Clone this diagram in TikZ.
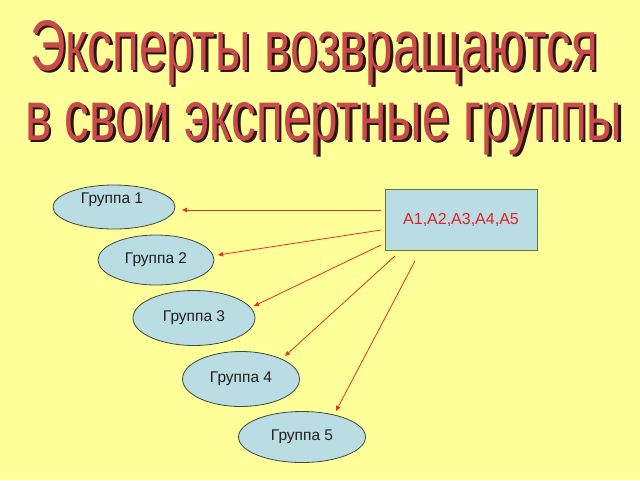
\documentclass[tikz,border=0pt]{standalone}
\usepackage{fontspec}
\setmainfont{Liberation Sans}
\usetikzlibrary{shapes.geometric,arrows.meta,calc}
\definecolor{bgyellow}{HTML}{FFFF99}
\definecolor{titlered}{HTML}{C94A4A}
\definecolor{titleshadow}{HTML}{2A160C}
\definecolor{boxblue}{HTML}{BADDE3}
\definecolor{ellborder}{HTML}{3C4A3C}
\definecolor{rectborder}{HTML}{5E7D34}
\definecolor{arrowred}{HTML}{E8321E}
\definecolor{labelred}{HTML}{E0202A}
\newcommand{\shadowtitle}[3]{%
  \makebox[0pt][l]{\hspace{2.5pt}\raisebox{-2.5pt}{\color{titleshadow}\resizebox{#1}{#2}{#3}}}%
  {\color{titlered}\resizebox{#1}{#2}{#3}}}
\begin{document}
\begin{tikzpicture}[x=1pt,y=-1pt,
  grp/.style={ellipse,draw=ellborder,line width=0.8pt,fill=boxblue,inner sep=0pt,font=\fontsize{15.5}{17}\selectfont,text=black!88},
  expbox/.style={rectangle,draw=rectborder,line width=0.9pt,fill=boxblue,inner sep=0pt,minimum width=152pt,minimum height=61pt,font=\fontsize{16}{18}\selectfont,text=labelred},
  arr/.style={draw=arrowred,line width=0.8pt,-{Triangle[length=5pt,width=4.5pt]}},
  ttl/.style={anchor=base west,inner sep=0pt,outer sep=0pt}]
\fill[bgyellow] (0,0) rectangle (640,480);
\useasboundingbox (0,0) rectangle (640,480);
% title
\node[ttl] (t1) at (30,70) {\shadowtitle{568pt}{50pt}{Эксперты возвращаются}};
\node[ttl] (t2) at (25,140) {\shadowtitle{597pt}{38pt}{в свои экспертные группы}};
% groups
\node[grp,minimum width=122pt,minimum height=44pt] (g1) at (114,207) {};
\node[font=\fontsize{15.5}{17}\selectfont,text=black!88,inner sep=0pt] (g1t) at (112,200) {Группа 1};
\node[grp,minimum width=116pt,minimum height=50pt] (g2) at (156,260) {Группа 2};
\node[grp,minimum width=122pt,minimum height=55pt] (g3) at (194,318) {Группа 3};
\node[grp,minimum width=117pt,minimum height=55pt] (g4) at (241,379) {Группа 4};
\node[grp,minimum width=127pt,minimum height=51pt] (g5) at (302,437) {Группа 5};
% expert box
\node[expbox] (ex) at (461,220) {A1,A2,A3,A4,A5};
% arrow ends
\coordinate (s1) at (381,210); \coordinate (e1) at (182,210);
\coordinate (s2) at (381,230); \coordinate (e2) at (218,255);
\coordinate (s3) at (381,245); \coordinate (e3) at (254,306);
\coordinate (s4) at (395,256); \coordinate (e4) at (285,356);
\coordinate (s5) at (415,261); \coordinate (e5) at (336,411);
\draw[arr] (s1) -- (e1);
\draw[arr] (s2) -- (e2);
\draw[arr] (s3) -- (e3);
\draw[arr] (s4) -- (e4);
\draw[arr] (s5) -- (e5);
\end{tikzpicture}
\end{document}
